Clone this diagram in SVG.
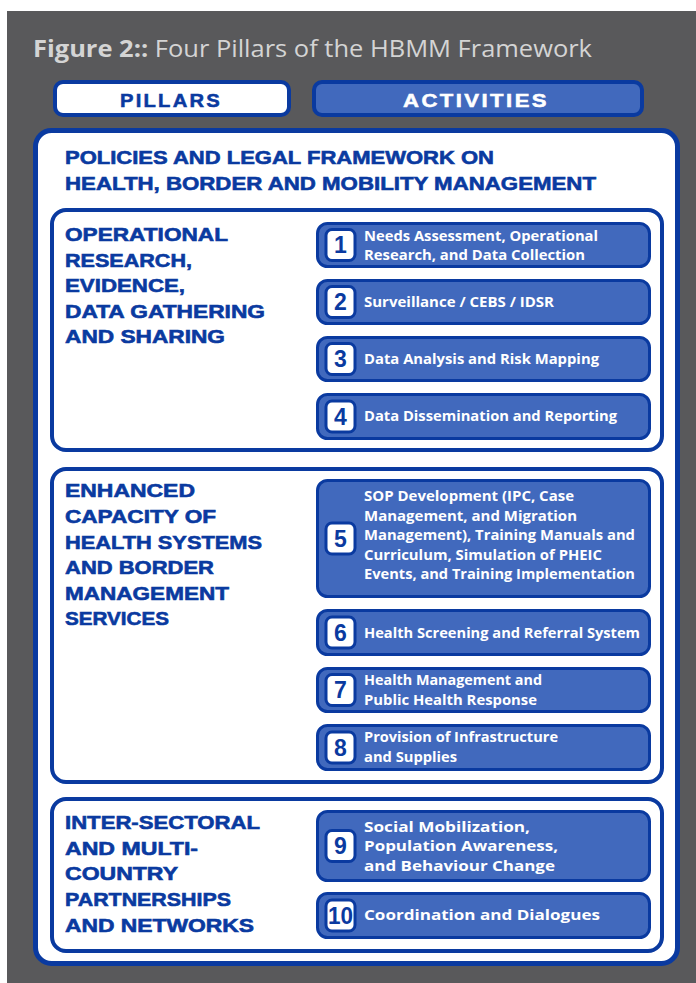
<svg xmlns="http://www.w3.org/2000/svg" width="696" height="983" viewBox="0 0 696 983">
<style>
.bg{fill:#59595b}
.title{font-family:"Open Sans","Liberation Sans",sans-serif;font-size:24px;fill:#d4d4d4}
.main{fill:#ffffff;stroke:#0a3aa0;stroke-width:5}
.sec{fill:#ffffff;stroke:#0a3aa0;stroke-width:4}
.head{font-family:"Liberation Sans",Arial,sans-serif;font-weight:bold;font-size:19px;fill:#0a3aa0;stroke:#0a3aa0;stroke-width:0.6}
.act{fill:#4169bd;stroke:#0a3aa0;stroke-width:3}
.atx{font-family:"Open Sans","Liberation Sans",sans-serif;font-weight:bold;font-size:15px;fill:#ffffff}
.badge{fill:#ffffff;stroke:#0a3aa0;stroke-width:3}
.num{font-family:"Liberation Sans",Arial,sans-serif;font-weight:bold;font-size:23px;fill:#0a3aa0;text-anchor:middle}
.btn{font-family:"Liberation Sans",Arial,sans-serif;font-weight:bold;font-size:18px;text-anchor:middle;letter-spacing:2px}
</style>
<rect x="0" y="0" width="696" height="983" fill="#ffffff"/>
<rect class="bg" x="7" y="11" width="689" height="972"/>
<g id="title">
<text class="title" x="33" y="57" textLength="559" lengthAdjust="spacingAndGlyphs"><tspan font-weight="bold">Figure 2::</tspan> Four Pillars of the HBMM Framework</text>
</g>
<g id="pillars-header">
<rect x="55" y="82" width="234" height="33" rx="8" fill="#ffffff" stroke="#0a3aa0" stroke-width="4"/>
<text class="btn" x="171" y="107" fill="#0a3aa0" stroke="#0a3aa0" stroke-width="0.5" textLength="102" lengthAdjust="spacingAndGlyphs">PILLARS</text>
</g>
<g id="activities-header">
<rect x="314" y="82" width="328" height="33" rx="8" fill="#4169bd" stroke="#0a3aa0" stroke-width="4"/>
<text class="btn" x="476" y="107" fill="#ffffff" stroke="#ffffff" stroke-width="0.5" textLength="146" lengthAdjust="spacingAndGlyphs">ACTIVITIES</text>
</g>
<g id="policies">
<rect class="main" x="35.5" y="130.5" width="642" height="833" rx="16"/>
<text class="head" x="65" y="164" textLength="429" lengthAdjust="spacingAndGlyphs">POLICIES AND LEGAL FRAMEWORK ON</text>
<text class="head" x="65" y="190" textLength="531" lengthAdjust="spacingAndGlyphs">HEALTH, BORDER AND MOBILITY MANAGEMENT</text>
</g>
<g id="pillar-1">
<rect class="sec" x="52" y="210" width="610" height="240" rx="14"/>
<text class="head" x="65" y="241" textLength="163" lengthAdjust="spacingAndGlyphs">OPERATIONAL</text>
<text class="head" x="65" y="267" textLength="127" lengthAdjust="spacingAndGlyphs">RESEARCH,</text>
<text class="head" x="65" y="292" textLength="120" lengthAdjust="spacingAndGlyphs">EVIDENCE,</text>
<text class="head" x="65" y="318" textLength="200" lengthAdjust="spacingAndGlyphs">DATA GATHERING</text>
<text class="head" x="65" y="343" textLength="160" lengthAdjust="spacingAndGlyphs">AND SHARING</text>
</g>
<g id="pillar-2">
<rect class="sec" x="52" y="469" width="610" height="313" rx="14"/>
<text class="head" x="65" y="497" textLength="130" lengthAdjust="spacingAndGlyphs">ENHANCED</text>
<text class="head" x="65" y="523" textLength="151" lengthAdjust="spacingAndGlyphs">CAPACITY OF</text>
<text class="head" x="65" y="549" textLength="197" lengthAdjust="spacingAndGlyphs">HEALTH SYSTEMS</text>
<text class="head" x="65" y="574" textLength="149" lengthAdjust="spacingAndGlyphs">AND BORDER</text>
<text class="head" x="65" y="600" textLength="164" lengthAdjust="spacingAndGlyphs">MANAGEMENT</text>
<text class="head" x="65" y="625" textLength="104" lengthAdjust="spacingAndGlyphs">SERVICES</text>
</g>
<g id="pillar-3">
<rect class="sec" x="52" y="799" width="610" height="152" rx="14"/>
<text class="head" x="65" y="829" textLength="195" lengthAdjust="spacingAndGlyphs">INTER-SECTORAL</text>
<text class="head" x="65" y="855" textLength="133" lengthAdjust="spacingAndGlyphs">AND MULTI-</text>
<text class="head" x="65" y="880" textLength="113" lengthAdjust="spacingAndGlyphs">COUNTRY</text>
<text class="head" x="65" y="906" textLength="166" lengthAdjust="spacingAndGlyphs">PARTNERSHIPS</text>
<text class="head" x="65" y="932" textLength="189" lengthAdjust="spacingAndGlyphs">AND NETWORKS</text>
</g>
<g id="activity-1">
<rect class="act" x="317.5" y="223.5" width="332" height="43" rx="10"/>
<rect class="badge" x="326" y="229.5" width="29" height="31" rx="6"/>
<text class="num" x="340.5" y="253">1</text>
<text class="atx" x="364" y="241" textLength="234" lengthAdjust="spacingAndGlyphs">Needs Assessment, Operational</text>
<text class="atx" x="364" y="260" textLength="221" lengthAdjust="spacingAndGlyphs">Research, and Data Collection</text>
</g>
<g id="activity-2">
<rect class="act" x="317.5" y="280.5" width="332" height="43" rx="10"/>
<rect class="badge" x="326" y="286.5" width="29" height="31" rx="6"/>
<text class="num" x="340.5" y="310">2</text>
<text class="atx" x="364" y="307" textLength="190" lengthAdjust="spacingAndGlyphs">Surveillance / CEBS / IDSR</text>
</g>
<g id="activity-3">
<rect class="act" x="317.5" y="337.5" width="332" height="43" rx="10"/>
<rect class="badge" x="326" y="343.5" width="29" height="31" rx="6"/>
<text class="num" x="340.5" y="367">3</text>
<text class="atx" x="364" y="364" textLength="235" lengthAdjust="spacingAndGlyphs">Data Analysis and Risk Mapping</text>
</g>
<g id="activity-4">
<rect class="act" x="317.5" y="394.5" width="332" height="44" rx="10"/>
<rect class="badge" x="326" y="401" width="29" height="31" rx="6"/>
<text class="num" x="340.5" y="424.5">4</text>
<text class="atx" x="364" y="421" textLength="253" lengthAdjust="spacingAndGlyphs">Data Dissemination and Reporting</text>
</g>
<g id="activity-5">
<rect class="act" x="317.5" y="480.5" width="332" height="116" rx="10"/>
<rect class="badge" x="326" y="523" width="29" height="31" rx="6"/>
<text class="num" x="340.5" y="546.5">5</text>
<text class="atx" x="364" y="501" textLength="210" lengthAdjust="spacingAndGlyphs">SOP Development (IPC, Case</text>
<text class="atx" x="364" y="521" textLength="213" lengthAdjust="spacingAndGlyphs">Management, and Migration</text>
<text class="atx" x="364" y="540" textLength="271" lengthAdjust="spacingAndGlyphs">Management), Training Manuals and</text>
<text class="atx" x="364" y="560" textLength="238" lengthAdjust="spacingAndGlyphs">Curriculum, Simulation of PHEIC</text>
<text class="atx" x="364" y="579" textLength="271" lengthAdjust="spacingAndGlyphs">Events, and Training Implementation</text>
</g>
<g id="activity-6">
<rect class="act" x="317.5" y="610.5" width="332" height="44" rx="10"/>
<rect class="badge" x="326" y="617" width="29" height="31" rx="6"/>
<text class="num" x="340.5" y="640.5">6</text>
<text class="atx" x="364" y="638" textLength="276" lengthAdjust="spacingAndGlyphs">Health Screening and Referral System</text>
</g>
<g id="activity-7">
<rect class="act" x="317.5" y="668.5" width="332" height="43" rx="10"/>
<rect class="badge" x="326" y="674.5" width="29" height="31" rx="6"/>
<text class="num" x="340.5" y="698">7</text>
<text class="atx" x="364" y="685" textLength="178" lengthAdjust="spacingAndGlyphs">Health Management and</text>
<text class="atx" x="364" y="705" textLength="173" lengthAdjust="spacingAndGlyphs">Public Health Response</text>
</g>
<g id="activity-8">
<rect class="act" x="317.5" y="725.5" width="332" height="44" rx="10"/>
<rect class="badge" x="326" y="732" width="29" height="31" rx="6"/>
<text class="num" x="340.5" y="755.5">8</text>
<text class="atx" x="364" y="742" textLength="194" lengthAdjust="spacingAndGlyphs">Provision of Infrastructure</text>
<text class="atx" x="364" y="762" textLength="93" lengthAdjust="spacingAndGlyphs">and Supplies</text>
</g>
<g id="activity-9">
<rect class="act" x="317.5" y="811.5" width="332" height="69" rx="10"/>
<rect class="badge" x="326" y="830.5" width="29" height="31" rx="6"/>
<text class="num" x="340.5" y="854">9</text>
<text class="atx" x="364" y="832" textLength="166" lengthAdjust="spacingAndGlyphs">Social Mobilization,</text>
<text class="atx" x="364" y="851" textLength="194" lengthAdjust="spacingAndGlyphs">Population Awareness,</text>
<text class="atx" x="364" y="871" textLength="191" lengthAdjust="spacingAndGlyphs">and Behaviour Change</text>
</g>
<g id="activity-10">
<rect class="act" x="317.5" y="893.5" width="332" height="44" rx="10"/>
<rect class="badge" x="326" y="900" width="29" height="31" rx="6"/>
<text class="num" x="340.5" y="923.5" textLength="25" lengthAdjust="spacingAndGlyphs">10</text>
<text class="atx" x="364" y="920" textLength="236" lengthAdjust="spacingAndGlyphs">Coordination and Dialogues</text>
</g>
</svg>
